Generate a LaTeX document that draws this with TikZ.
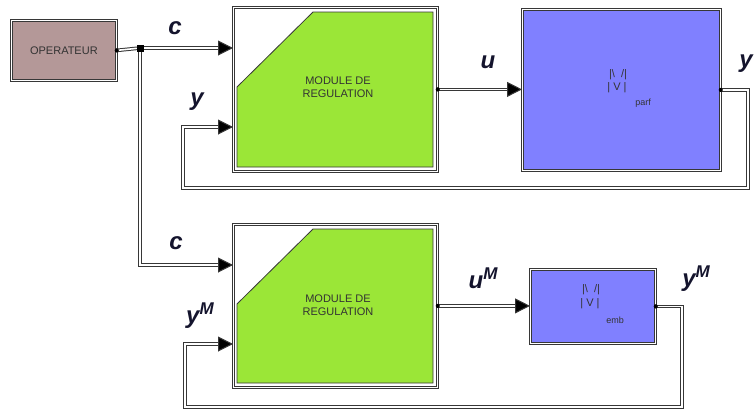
\documentclass[tikz,border=0pt]{standalone}
\usepackage{fontspec}
\setmainfont{Liberation Sans}
\usetikzlibrary{arrows.meta,calc}
\definecolor{opcol}{RGB}{180,152,152}
\definecolor{regcol}{RGB}{155,230,55}
\definecolor{plantcol}{RGB}{128,128,255}
\definecolor{edgecol}{RGB}{55,55,55}
\definecolor{labcol}{RGB}{20,20,45}
\begin{document}
\begin{tikzpicture}[x=1pt,y=-1pt,
  boxframe/.style={draw=edgecol, line width=0.8pt, double=white, double distance=1pt, inner sep=0pt, anchor=north west},
  wire/.style={draw=edgecol, line width=1pt, double=white, double distance=1.6pt},
  arr/.style={wire, -{Triangle[length=15pt,width=15pt,fill=black]}},
  lbl/.style={font=\fontsize{24}{24}\selectfont\bfseries\itshape, text=labcol, inner sep=0pt},
  txt/.style={font=\fontsize{11}{13}\selectfont, text=black!80, align=center, inner sep=0pt},
  subtxt/.style={font=\fontsize{9}{10}\selectfont, text=black!80, inner sep=0pt},
  port/.style={circle, fill=black, inner sep=0pt, minimum size=4pt},
  junction/.style={rectangle, fill=black, inner sep=0pt, minimum size=7pt}
]
\useasboundingbox (0,0) rectangle (755,410);

% boxes
\node[boxframe, fill=opcol, minimum width=105pt, minimum height=60pt] (op) at (11,20) {};
\node[txt] at (op.center) {OPERATEUR};

\node[boxframe, fill=white, minimum width=204pt, minimum height=164pt] (reg1) at (233,7) {};
\filldraw[fill=regcol, draw=edgecol, line width=0.8pt] (313,12) -- (433,12) -- (433,167) -- (237,167) -- (237,87) -- cycle;
\node[txt] (reg1t) at (338,87) {MODULE DE\\REGULATION};

\node[boxframe, fill=plantcol, minimum width=198pt, minimum height=161pt] (pl1) at (522,9) {};
\node[txt] (pl1a) at (618,75) {|\textbackslash\ \ /|};
\node[txt] (pl1b) at (617,88) {|\ V\ |};
\node[subtxt] (pl1c) at (643,103) {parf};

\node[boxframe, fill=white, minimum width=204pt, minimum height=163pt] (reg2) at (233,224) {};
\filldraw[fill=regcol, draw=edgecol, line width=0.8pt] (313,229) -- (433,229) -- (433,383) -- (237,383) -- (237,304) -- cycle;
\node[txt] (reg2t) at (338,305) {MODULE DE\\REGULATION};

\node[boxframe, fill=plantcol, minimum width=125pt, minimum height=74pt] (pl2) at (530,269) {};
\node[txt] (pl2a) at (591,290) {|\textbackslash\ \ /|};
\node[txt] (pl2b) at (590,304) {|\ V\ |};
\node[subtxt] (pl2c) at (615,320) {emb};

% ports
\node[port] (p0) at (op.east) {};
\node[port] (p1) at (reg1.east) {};
\node[port] (p2) at (pl1.east) {};
\node[port] (p3) at (reg2.east) {};
\node[port] (p4) at (pl2.east) {};
\node[junction] (j) at (140,48) {};

% corner coordinates
\coordinate (jb) at (140,265);
\coordinate (f1a) at (748,89);
\coordinate (f1b) at (748,188);
\coordinate (f1c) at (183,188);
\coordinate (f1d) at (183,127);
\coordinate (f2a) at (682,306);
\coordinate (f2b) at (682,407);
\coordinate (f2c) at (185,407);
\coordinate (f2d) at (185,344);

% wires
\draw[wire] (p0.center) -- (j.center);
\draw[arr] (j.center) -- (reg1.west |- j);
\draw[arr] (j.center) -- (jb) -- (reg2.west |- jb);
\draw[arr] (p1.center) -- (pl1.west |- p1);
\draw[arr] (p2.center) -- (p2 -| f1a) -- (f1b) -- (f1c) -- (f1d) -- (reg1.west |- f1d);
\draw[arr] (p3.center) -- (pl2.west |- p3);
\draw[arr] (p4.center) -- (p4 -| f2a) -- (f2b) -- (f2c) -- (f2d) -- (reg2.west |- f2d);
\node[junction] at (j) {};
\node[port] at (p0) {};
\node[port] at (p1) {};
\node[port] at (p2) {};
\node[port] at (p3) {};
\node[port] at (p4) {};

% labels
\node[lbl] (lc1) at (175,28) {c};
\node[lbl] (ly1) at (197,102) {y};
\node[lbl] (lu1) at (488,62) {u};
\node[lbl] (ly1r) at (746,64) {y};
\node[lbl] (lc2) at (176,243) {c};
\node[lbl] (ly2) at (200,316) {y\raisebox{9pt}{\fontsize{17}{17}\selectfont M}};
\node[lbl] (lu2) at (483,278) {u\raisebox{9pt}{\fontsize{17}{17}\selectfont M}};
\node[lbl] (ly2r) at (696,279) {y\raisebox{9pt}{\fontsize{17}{17}\selectfont M}};
\end{tikzpicture}
\end{document}
